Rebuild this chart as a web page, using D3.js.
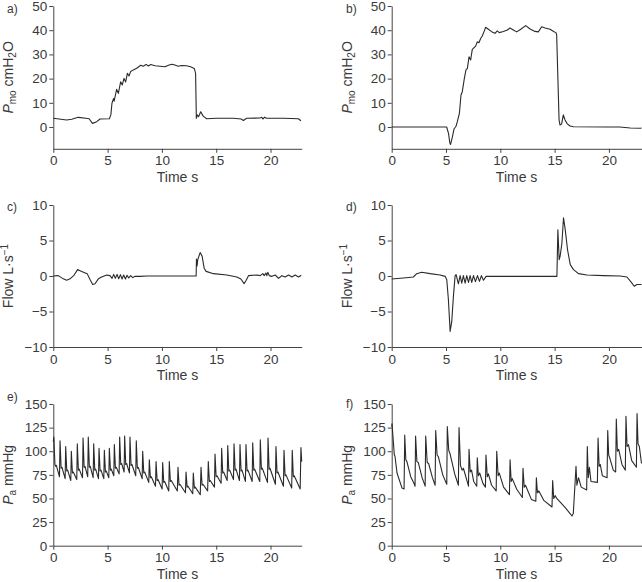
<!DOCTYPE html>
<html><head><meta charset="utf-8">
<script src="https://cdn.jsdelivr.net/npm/d3@7"></script>
<style>
html,body{margin:0;padding:0;background:#fff;}
svg text{font-family:"Liberation Sans",Arial,sans-serif;fill:#3a3a3a;}
</style></head>
<body><svg id="c" width="642" height="582"></svg>
<script>
// ---------- data (time s, value) ----------
const timeTicks = [0, 5, 10, 15, 20];
const pmoTicks = [0, 10, 20, 30, 40, 50];
const flowTicks = [-10, -5, 0, 5, 10];
const paTicks = [0, 25, 50, 75, 100, 125, 150];
const panelLetters = ["a)", "b)", "c)", "d)", "e)", "f)"];

const pmoA = [[0,3.6],[1.23,2.9],[1.7,3.2],[2.3,4.0],[3.0,3.6],[3.3,3.4],[3.6,1.5],[4.0,2.2],[4.3,3.3],[5.16,3.4],[5.3,5.0],[5.4,9.8],[5.55,11.8],[5.6,10.7],[5.83,15.6],[5.99,13.9],[6.2,18.7],[6.35,17.4],[6.51,20.1],[6.66,18.6],[6.82,22.2],[6.97,21.1],[7.12,22.9],[7.37,23.6],[7.68,24.3],[8.05,25.5],[8.29,25.1],[8.54,25.9],[8.75,25.2],[8.97,25.8],[9.37,25.3],[9.83,25.1],[10.29,24.9],[10.6,25.5],[10.9,25.9],[11.2,25.6],[11.5,25.1],[11.81,25.4],[12.27,25.3],[12.64,24.9],[12.98,24.2],[13.1,22.2],[13.17,3.6],[13.26,5.0],[13.38,4.3],[13.57,6.3],[13.8,4.5],[14.12,3.4],[15.04,3.6],[16.58,3.6],[17.3,3.3],[17.5,2.7],[17.8,3.6],[19.03,3.7],[19.2,4.0],[19.3,3.3],[19.45,4.1],[19.6,3.6],[21.2,3.6],[22.56,3.4],[22.8,2.6]];

const pmoB = [[0,0],[3.53,0],[5.06,0],[5.23,-2.6],[5.35,-6.5],[5.42,-7.2],[5.57,-4.5],[5.74,-0.8],[5.92,0.3],[6.04,2.2],[6.23,5.5],[6.38,13.2],[6.5,14.6],[6.69,20.1],[6.84,23.6],[6.97,24.2],[7.12,29],[7.27,27.7],[7.42,32.1],[7.61,32.9],[7.73,33.4],[7.88,35.2],[8.03,34.8],[8.19,36.6],[8.34,37.6],[8.5,39.4],[8.65,41.2],[8.9,40.4],[9.2,39.4],[9.51,38.7],[9.72,39.7],[9.9,39.0],[10.28,39.5],[10.65,40.1],[10.89,40.9],[11.2,40.1],[11.51,39.3],[11.88,40.4],[12.34,41.9],[12.74,40.5],[13.2,39.5],[13.5,39.3],[13.81,41.4],[14.12,40.9],[14.58,40.4],[14.95,39.4],[15.13,39.0],[15.19,38.0],[15.28,23.6],[15.41,2.9],[15.5,0.8],[15.65,1.3],[15.8,5.0],[15.96,2.9],[16.17,1.3],[16.42,0.4],[16.74,0.1],[19.8,0],[21.0,0],[21.97,-0.4],[22.9,-0.5],[23.0,-0.4]];

const flowC = [[0,0],[0.46,0.05],[0.92,-0.4],[1.23,-0.6],[1.54,-0.4],[1.9,0.1],[2.24,0.9],[2.46,0.75],[2.83,0.5],[3.13,0.3],[3.38,-0.5],[3.63,-1.2],[3.84,-1.1],[4.15,-0.4],[4.45,-0.15],[4.92,0.15],[5.22,0.05],[5.41,-0.33],[5.56,0.23],[5.71,-0.33],[5.87,0.23],[6.02,-0.38],[6.18,0.19],[6.33,-0.42],[6.48,0.14],[6.64,-0.42],[6.79,0.1],[6.94,-0.28],[7.13,0.05],[7.31,-0.23],[7.53,-0.05],[7.99,-0.05],[8.6,0],[13.15,0],[13.18,2.4],[13.24,1.4],[13.3,2.3],[13.52,3.3],[13.7,2.8],[13.89,1.1],[14.07,0.65],[14.75,0.33],[15.98,0.14],[16.9,-0.14],[17.27,-0.42],[17.57,-1.08],[17.76,-0.6],[17.97,0.05],[18.74,0.14],[19.05,0.05],[19.29,0.33],[19.42,0.05],[19.57,0.42],[19.66,0.05],[19.75,0.52],[19.88,0.05],[20.12,-0.05],[20.43,0.14],[20.74,-0.33],[21.04,0.05],[21.35,-0.14],[21.66,0.14],[21.97,-0.14],[22.27,0.14],[22.58,-0.14],[22.83,0.1]];

const flowD = [[0,-0.42],[1.08,-0.28],[2.0,-0.14],[2.3,0.33],[2.76,0.52],[3.53,0.33],[4.45,0.14],[4.92,-0.05],[5.07,-0.52],[5.22,-3.3],[5.38,-7.8],[5.53,-6.4],[5.68,-2.9],[5.84,0.05],[5.93,0.2],[6.14,-1.1],[6.3,0.05],[6.45,-1.0],[6.6,0.05],[6.76,-1.0],[6.91,0.05],[7.07,-0.9],[7.22,0.05],[7.37,-0.9],[7.53,0.05],[7.71,-0.8],[7.9,0.05],[8.08,-0.75],[8.26,0.05],[8.45,-0.6],[8.69,-0.05],[9.37,-0.05],[12.44,-0.05],[15.21,-0.05],[15.3,6.5],[15.42,2.3],[15.51,2.8],[15.67,4.6],[15.82,8.2],[15.98,6.5],[16.19,3.7],[16.44,1.6],[16.74,0.9],[17.2,0.33],[17.97,0.14],[19.5,0.05],[21.04,0],[21.66,-0.14],[22.12,-1.0],[22.33,-1.45],[22.58,-1.2],[23.0,-1.2]];

const paE = [[0,110],[0.05,115],[0.15,86],[0.22,84],[0.28,85],[0.57,73],[0.62,111],[0.72,82],[0.8,83],[1.09,71],[1.14,105],[1.24,79],[1.32,80],[1.61,69],[1.66,100],[1.76,77],[1.84,78],[2.16,70],[2.21,108],[2.31,80],[2.39,81],[2.69,72],[2.74,114],[2.84,83],[2.92,84],[3.17,73],[3.22,115],[3.32,83],[3.4,84],[3.67,72],[3.72,108],[3.82,80],[3.9,81],[4.16,71],[4.21,103],[4.31,79],[4.39,80],[4.65,71],[4.7,101],[4.8,78],[4.88,79],[5.11,72],[5.16,103],[5.26,80],[5.34,81],[5.57,74],[5.62,107],[5.72,82],[5.8,83],[6.06,76],[6.11,115],[6.21,86],[6.29,87],[6.52,78],[6.57,116],[6.67,86],[6.75,87],[7.01,77],[7.06,115],[7.16,85],[7.24,86],[7.59,74],[7.64,111],[7.74,82],[7.82,83],[8.18,71],[8.23,100],[8.33,77],[8.41,78],[8.79,67],[8.84,91],[8.94,72],[9.02,73],[9.41,63],[9.46,89],[9.56,69],[9.64,70],[10.02,60],[10.07,88],[10.17,67],[10.25,68],[10.63,58],[10.68,89],[10.78,68],[10.86,69],[11.42,58],[11.48,83],[11.58,64],[11.66,65],[12.17,56],[12.22,78],[12.32,62],[12.4,63],[12.84,55],[12.89,77],[12.99,61],[13.07,62],[13.53,54],[13.6,83],[13.7,64],[13.78,65],[14.21,58],[14.27,89],[14.37,68],[14.45,69],[14.84,62],[14.89,97],[14.99,73],[15.07,74],[15.45,66],[15.5,103],[15.6,77],[15.68,78],[16.01,69],[16.06,106],[16.16,79],[16.24,80],[16.59,70],[16.64,108],[16.74,80],[16.82,81],[17.14,69],[17.19,107],[17.29,79],[17.37,80],[17.69,68],[17.74,107],[17.84,79],[17.92,80],[18.31,68],[18.36,109],[18.46,80],[18.54,81],[19.01,68],[19.06,112],[19.16,81],[19.24,82],[19.72,67],[19.77,114],[19.87,81],[19.95,82],[20.45,65],[20.5,105],[20.6,77],[20.68,78],[21.19,63],[21.24,101],[21.34,74],[21.42,75],[21.95,61],[22.0,101],[22.1,73],[22.18,74],[22.73,60],[22.8,104],[22.87,89]];

const paF = [[0,126],[0.03,129],[0.24,96],[0.3,95],[0.49,77],[0.95,61],[1.14,60],[1.2,117],[1.3,91],[1.4,89],[1.75,73],[2.05,66],[2.15,63],[2.2,116],[2.32,89],[2.45,88],[2.8,72],[3.08,63],[3.13,116],[3.27,88],[3.4,87],[3.75,72],[4.0,64],[4.05,122],[4.18,96],[4.3,94],[4.7,75],[5.07,65],[5.12,126],[5.25,101],[5.38,97],[5.8,76],[6.14,64],[6.2,125],[6.33,85],[6.48,80],[6.6,82],[7.0,66],[7.07,63],[7.12,102],[7.23,78],[7.35,80],[7.55,68],[7.83,63],[7.88,93],[7.98,74],[8.1,77],[8.4,66],[8.63,62],[8.68,96],[8.8,73],[8.9,76],[9.2,64],[9.62,58],[9.67,100],[9.8,74],[9.9,77],[10.3,62],[10.84,54],[10.9,91],[11.0,68],[11.1,71],[11.5,60],[12.03,51],[12.09,82],[12.2,62],[12.32,64],[12.86,49],[13.27,47],[13.32,72],[13.42,56],[13.55,58],[14.0,48],[14.76,41],[14.82,69],[14.92,50],[15.05,53],[15.2,50],[16.0,40],[16.5,33],[16.6,31.5],[16.72,34],[16.97,84],[17.05,64],[17.2,72],[17.45,62],[17.95,59],[18.01,105],[18.1,72],[18.2,83],[18.35,68],[18.94,67],[19.0,114],[19.1,84],[19.2,86],[19.4,74],[19.83,72],[19.89,122],[19.98,96],[20.1,92],[20.4,80],[20.62,78],[20.68,134],[20.78,100],[20.9,102],[21.2,86],[21.51,80],[21.57,137],[21.67,105],[21.8,107],[22.1,90],[22.53,83],[22.59,140],[22.68,108],[22.8,105],[23.0,87]];

// ---------- layout ----------
const svg = d3.select("#c");
const cols = [
  {x0: 53.3, x1: 301.7, tmax: 22.87, labelX: 12.5, letterX: 7},
  {x0: 391.7, x1: 641.5, tmax: 23.0, labelX: 352, letterX: 346}
];
const rows = [
  {y0: 148.8, y1: 6, dom: [-9, 50], ticks: pmoTicks, label: "pmo"},
  {y0: 347, y1: 205, dom: [-10, 10], ticks: flowTicks, label: "flow"},
  {y0: 545.7, y1: 404, dom: [0, 150], ticks: paTicks, label: "pa"}
];
const series = [pmoA, pmoB, flowC, flowD, paE, paF];
const letterY = [13, 13, 211, 211, 401, 408];

function yLabel(g, kind, cx, cy) {
  const t = g.append("text")
    .attr("transform", `translate(${cx},${cy}) rotate(-90)`)
    .attr("text-anchor", "middle")
    .attr("font-size", 14);
  if (kind === "pmo") {
    t.append("tspan").attr("font-style", "italic").text("P");
    t.append("tspan").attr("font-size", 10).attr("dy", 3).text("mo");
    t.append("tspan").attr("dy", -3).text(" cmH");
    t.append("tspan").attr("font-size", 10).attr("dy", 3).text("2");
    t.append("tspan").attr("dy", -3).text("O");
  } else if (kind === "flow") {
    t.append("tspan").text("Flow L\u00b7s");
    t.append("tspan").attr("font-size", 10).attr("dy", -5).text("\u22121");
  } else {
    t.append("tspan").attr("font-style", "italic").text("P");
    t.append("tspan").attr("font-size", 10).attr("dy", 3).text("a");
    t.append("tspan").attr("dy", -3).text(" mmHg");
  }
}

rows.forEach((r, ri) => {
  cols.forEach((c, ci) => {
    const idx = ri * 2 + ci;
    const x = d3.scaleLinear().domain([0, c.tmax]).range([c.x0, c.x1]);
    const y = d3.scaleLinear().domain(r.dom).range([r.y0, r.y1]);
    const g = svg.append("g");

    const xa = g.append("g").attr("transform", `translate(0,${r.y0})`)
      .call(d3.axisBottom(x).tickValues(timeTicks).tickSize(4).tickSizeOuter(0).tickPadding(3));
    const ya = g.append("g").attr("transform", `translate(${c.x0},0)`)
      .call(d3.axisLeft(y).tickValues(r.ticks).tickSize(4).tickSizeOuter(0).tickPadding(2));
    [xa, ya].forEach(a => {
      a.selectAll("path,line").attr("stroke", "#444").attr("stroke-width", 1);
      a.selectAll("text").attr("font-size", 13.5).attr("fill", "#3a3a3a")
        .style("font-family", '"Liberation Sans",Arial,sans-serif');
    });

    g.append("path").datum(series[idx])
      .attr("fill", "none").attr("stroke", "#2a2a2a").attr("stroke-width", 1.1)
      .attr("stroke-linejoin", "round")
      .attr("d", d3.line().x(d => x(d[0])).y(d => y(d[1])));

    g.append("text").attr("x", (c.x0 + c.x1) / 2).attr("y", r.y0 + 33)
      .attr("text-anchor", "middle").attr("font-size", 14).text("Time s");

    yLabel(g, r.label, c.labelX, (r.y0 + r.y1) / 2);

    g.append("text").attr("x", c.letterX).attr("y", letterY[idx])
      .attr("font-size", 12).text(panelLetters[idx]);
  });
});
</script></body></html>
